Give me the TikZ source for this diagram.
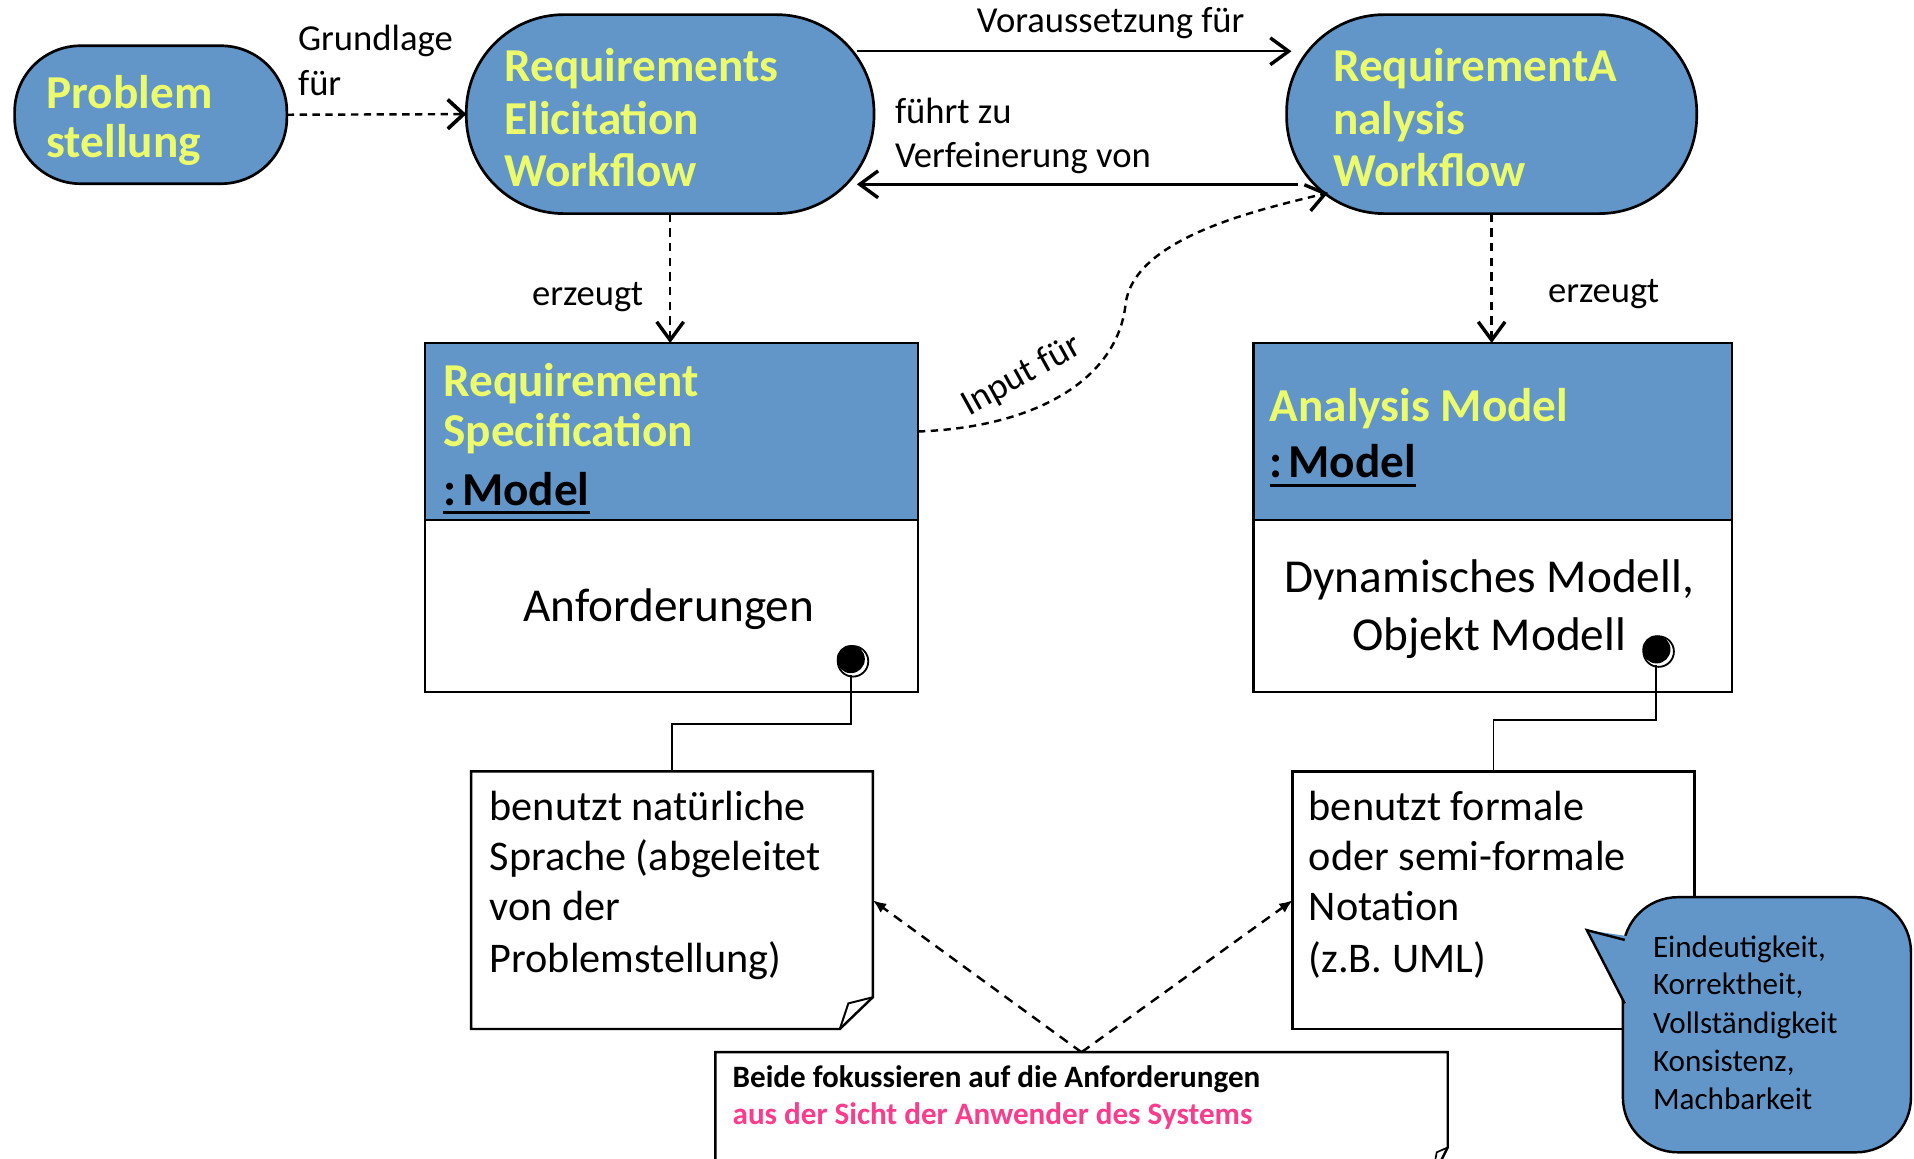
\documentclass[tikz,border=0pt]{standalone}
\usepackage{fontspec}
\setmainfont{Carlito}
\usetikzlibrary{arrows.meta,calc}

\definecolor{boxblue}{HTML}{6296C9}
\definecolor{titleyellow}{HTML}{EBFB6C}
\definecolor{accentpink}{HTML}{FA3C8C}

\tikzset{
  workflow/.style={draw=black, line width=2.2pt, fill=boxblue, inner sep=0pt, outer sep=0pt},
  headbox/.style={draw=black, line width=2pt, fill=boxblue, rectangle, inner sep=0pt, outer sep=0pt},
  bodybox/.style={draw=black, line width=2pt, fill=white, rectangle, inner sep=0pt, outer sep=0pt},
  notebox/.style={draw=none, rectangle, inner sep=0pt, outer sep=0pt},
  noteline/.style={draw=black, line width=2pt, fill=white, line join=miter},
  ttl/.style={anchor=base west, inner sep=0pt, text=titleyellow, font=\fontsize{38.7}{42}\selectfont\bfseries},
  mdl/.style={anchor=base west, inner sep=0pt, font=\fontsize{38.7}{42}\selectfont\bfseries},
  bodytxt/.style={anchor=base, inner sep=0pt, font=\fontsize{38.7}{42}\selectfont},
  notetxt/.style={anchor=base west, inner sep=0pt, font=\fontsize{34.6}{42}\selectfont},
  lbl/.style={anchor=base west, inner sep=0pt, font=\fontsize{30}{36}\selectfont},
  smalltxt/.style={anchor=base west, inner sep=0pt, font=\fontsize{25.5}{30}\selectfont},
  conn/.style={line width=2pt},
  dashconn/.style={line width=2pt, dash pattern=on 7pt off 5pt},
  openhead/.style={-{Straight Barb[length=15pt,width=22pt,line width=2.8pt]}},
  bighead/.style={-{Straight Barb[length=13pt,width=24pt,line width=3pt]}},
  filledhead/.style={-{Latex[length=11pt,width=9pt]}},
  pinline/.style={line width=1.6pt},
}

\begin{document}
\begin{tikzpicture}[x=1pt,y=-1pt]
\useasboundingbox (0,0) rectangle (1568,949);
\fill[white] (0,0) rectangle (1568,949);

% ---------- workflows ----------
\node[workflow, rounded corners=54pt, minimum width=223pt, minimum height=113pt] (prob) at (123.5,94) {};
\node[ttl] (probT1) at (38,89) {Problem};
\node[ttl] (probT2) at (38,129) {stellung};

\node[workflow, rounded corners=80pt, minimum width=334pt, minimum height=163pt] (elic) at (549,93.5) {};
\node[ttl] (elicT1) at (413,67) {Requirements};
\node[ttl] (elicT2) at (413,110) {Elicitation};
\node[ttl] (elicT3) at (413,153) {Workflow};

\node[workflow, rounded corners=80pt, minimum width=336pt, minimum height=163pt] (anaw) at (1222,93.5) {};
\node[ttl] (anawT1) at (1092,67) {RequirementA};
\node[ttl] (anawT2) at (1092,110) {nalysis};
\node[ttl] (anawT3) at (1092,153) {Workflow};

% ---------- model objects ----------
\node[headbox, minimum width=404pt, minimum height=145pt] (spech) at (550,353.5) {};
\node[bodybox, minimum width=404pt, minimum height=141pt] (specb) at (550,496.5) {};
\node[ttl] (specT1) at (363,325) {Requirement};
\node[ttl] (specT2) at (363,366) {Specification};
\node[mdl] (specM) at (363,414) {:\hspace{0.12em}Model};
\draw[line width=2.6pt] ($(specM.base west)+(0,6)$) -- ($(specM.base east)+(0,6)$);
\node[bodytxt] (specBody) at (548,509) {Anforderungen};

\node[headbox, minimum width=392pt, minimum height=145pt] (amodh) at (1223,353.5) {};
\node[bodybox, minimum width=392pt, minimum height=141pt] (amodb) at (1223,496.5) {};
\node[ttl] (amodT1) at (1040,345.5) {Analysis Model};
\node[mdl] (amodM) at (1040,391.5) {:\hspace{0.12em}Model};
\draw[line width=2.6pt] ($(amodM.base west)+(0,6)$) -- ($(amodM.base east)+(0,6)$);
\node[bodytxt] (amodB1) at (1220,485) {Dynamisches Modell,};
\node[bodytxt] (amodB2) at (1220,532.5) {Objekt Modell};

% ---------- note attachment pins ----------
\coordinate (pin1) at (697,540);
\coordinate (pin2) at (1357,532);
\foreach \p in {pin1,pin2}{
  \draw[line width=1.5pt] ($(\p)+(1.8,1.8)$) circle (12.5pt);
  \fill[white] ($(\p)+(1.2,1.2)$) circle (11.6pt);
  \fill[black] (\p) circle (11.5pt);
}

% ---------- notes ----------
\node[notebox, minimum width=329pt, minimum height=211pt] (note1) at (550.5,737.5) {};
\draw[noteline] (note1.north west) -- (note1.north east) -- ($(note1.south east)+(0,-26)$)
  -- ($(note1.south east)+(-27,0)$) -- (note1.south west) -- cycle;
\draw[line width=1.6pt, line join=miter] ($(note1.south east)+(0,-26)$) -- ($(note1.south east)+(-20,-21)$) -- ($(note1.south east)+(-27,0)$);
\node[notetxt] (n1T1) at (401,672) {benutzt natürliche};
\node[notetxt] (n1T2) at (401,713) {Sprache (abgeleitet};
\node[notetxt] (n1T3) at (401,754) {von der};
\node[notetxt] (n1T4) at (401,797) {Problemstellung)};

\node[notebox, minimum width=329pt, minimum height=211pt] (note2) at (1223.5,737.5) {};
\draw[noteline] (note2.north west) rectangle (note2.south east);
\node[notetxt] (n2T1) at (1072,672) {benutzt formale};
\node[notetxt] (n2T2) at (1072,713) {oder semi-formale};
\node[notetxt] (n2T3) at (1072,754) {Notation};
\node[notetxt] (n2T4) at (1072,797) {(z.B. UML)};

\draw[pinline] ($(pin1)+(0,13)$) |- ($(note1.north)+(0,-39)$) -- (note1.north);
\draw[pinline] ($(pin2)+(0,13)$) |- ($(note2.north)+(0,-42)$) -- (note2.north);

% ---------- bottom note ----------
\node[notebox, minimum width=600pt, minimum height=150pt] (bnote) at (886,937) {};
\draw[noteline] (586,1010) -- (bnote.north west) -- (bnote.north east) -- (1186,940) -- (1176,960) -- (1176,1010);
\draw[line width=1.4pt] (1186,940) -- (1177,944) -- (1174,960);
\node[smalltxt, font=\fontsize{25.5}{30}\selectfont\bfseries] (bT1) at (600,890.5) {Beide fokussieren auf die Anforderungen};
\node[smalltxt, font=\fontsize{25.5}{30}\selectfont\bfseries, text=accentpink] (bT2) at (600,921.5) {aus der Sicht der Anwender des Systems};

\draw[dashconn, filledhead, dash pattern=on 8pt off 6pt] (bnote.north) -- (note1.east);
\draw[dashconn, filledhead, dash pattern=on 8pt off 6pt] (bnote.north) -- (note2.west);

% ---------- callout ----------
\node[draw=black, line width=2pt, fill=boxblue, rounded corners=45pt, minimum width=236pt, minimum height=209pt, inner sep=0pt] (callout) at (1447.5,839.5) {};
\fill[boxblue] (1334,767) -- (1300,762) -- (1334,828) -- cycle;
\draw[line width=2pt, line join=miter] (1331,770) -- (1300,762) -- (1331,822);
\node[smalltxt] (cT1) at (1354,784) {Eindeutigkeit,};
\node[smalltxt] (cT2) at (1354,815) {Korrektheit,};
\node[smalltxt] (cT3) at (1354,846.5) {Vollständigkeit};
\node[smalltxt] (cT4) at (1354,878) {Konsistenz,};
\node[smalltxt] (cT5) at (1354,909) {Machbarkeit};

% ---------- connectors between workflows ----------
\draw[dashconn, bighead, dash pattern=on 6pt off 4.5pt] (prob.east) -- (elic.west);
\node[lbl] (lGrund1) at (244,41) {Grundlage};
\node[lbl] (lGrund2) at (244,78) {für};

\draw[conn, openhead] ($(elic.north east)+(-14,30)$) -- ($(anaw.north west)+(4,30)$);
\node[lbl] (lVor) at (800,27) {Voraussetzung für};

\draw[conn, openhead] ($(anaw.south west)+(9,-24)$) -- ($(elic.south east)+(-14,-24)$);
\node[lbl] (lFuehrt1) at (733,101) {führt zu};
\node[lbl] (lFuehrt2) at (733,137) {Verfeinerung von};

\draw[dashconn, openhead] (elic.south) -- (elic.south |- spech.north);
\node[lbl, anchor=base east] (lErz1) at (527,250) {erzeugt};

\draw[dashconn, openhead] (anaw.south) -- (anaw.south |- amodh.north);
\node[lbl] (lErz2) at (1268,248) {erzeugt};

\draw[dashconn, openhead, dash pattern=on 6pt off 4.5pt] (spech.east) .. controls (850,350) and (915,310) .. (922,250)
  .. controls (928,195) and (1030,172) .. ($(anaw.south west)+(34,-17)$);
\node[lbl, anchor=center, rotate=29] (lInput) at (837,308) {Input für};

\end{tikzpicture}
\end{document}
